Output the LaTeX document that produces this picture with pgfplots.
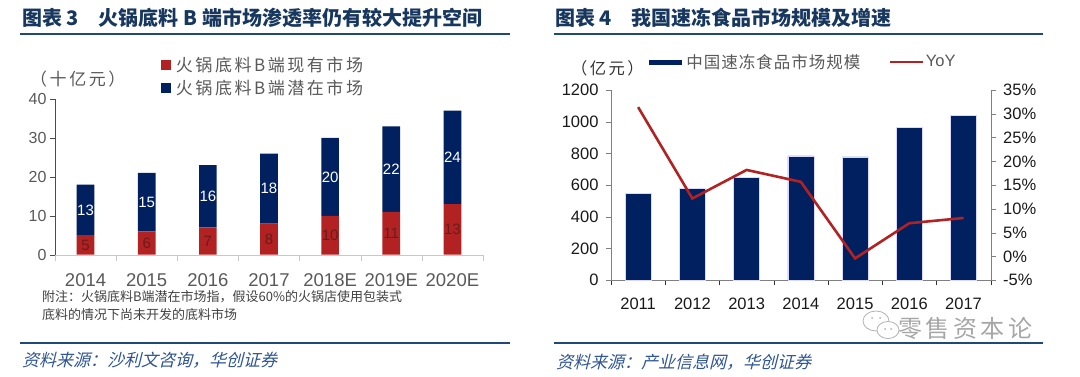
\documentclass[border=0pt]{standalone}
\usepackage{pgfplots}
\usepackage{pgfplotstable}
\pgfplotsset{compat=1.18}
\usepackage{fontspec}
\setmainfont{Liberation Sans}
\newfontfamily\cjk{Noto Sans CJK SC}
\newfontfamily\cjksp[LetterSpace=15]{Noto Sans CJK SC}
\newfontfamily\cjkspb[LetterSpace=6]{Noto Sans CJK SC}
\newfontfamily\cjkit[FakeSlant=0.25]{Noto Sans CJK SC}
\definecolor{navy}{RGB}{0,32,96}
\definecolor{barred}{RGB}{178,34,34}
\definecolor{lblred}{RGB}{105,28,28}
\definecolor{titleblue}{RGB}{23,55,94}
\definecolor{ruleblue}{RGB}{31,73,125}
\definecolor{srcblue}{RGB}{46,84,150}
\definecolor{txtgray}{RGB}{89,89,89}
\definecolor{axgray}{RGB}{128,128,128}
\definecolor{lightax}{RGB}{200,200,200}
\pgfplotsset{/pgf/number format/assume math mode=true, /pgf/number format/1000 sep={}}

\pgfplotstableread{
x red blue
0 5 13
1 6 15
2 7 16
3 8 18
4 10 20
5 11 22
6 13 24
}\hotpot

\pgfplotstableread{
x size yoy
0 548 31.4
1 582 12.2
2 649 18.2
3 784 15.7
4 778 -0.4
5 965 7.0
6 1040 8.1
}\frozen

\begin{document}
\begin{tikzpicture}[x=1pt,y=1pt]
\path[use as bounding box] (0,0) rectangle (1080,376);

% ---------- titles and rules ----------
\node[anchor=west, inner sep=0pt, text=titleblue, font=\cjk\bfseries\fontsize{20}{20}\selectfont] at (22,358) {图表 3\hspace{20pt}火锅底料 B 端市场渗透率仍有较大提升空间};
\node[anchor=west, inner sep=0pt, text=titleblue, font=\cjk\bfseries\fontsize{20}{20}\selectfont] at (555,358) {图表 4\hspace{20pt}我国速冻食品市场规模及增速};
\draw[ruleblue, line width=2pt] (20,342) -- (510,342);
\draw[ruleblue, line width=2pt] (554,342) -- (1043,342);
\draw[ruleblue, line width=2pt] (20,33) -- (510,33);
\draw[ruleblue, line width=2pt] (554,33) -- (1043,33);
\node[anchor=west, inner sep=0pt, text=srcblue, font=\cjkit\fontsize{17}{17}\selectfont] at (22,16) {资料来源：沙利文咨询，华创证券};
\node[anchor=west, inner sep=0pt, text=srcblue, font=\cjkit\fontsize{17}{17}\selectfont] at (556,14) {资料来源：产业信息网，华创证券};

% ---------- left panel notes ----------
\node[anchor=west, inner sep=0pt, text=txtgray, font=\cjksp\fontsize{17}{17}\selectfont] at (30,297) {（十亿元）};
\node[anchor=west, inner sep=0pt, text=black!75, font=\cjk\fontsize{13}{13}\selectfont] at (42,79) {附注：火锅底料B端潜在市场指，假设60\%的火锅店使用包装式};
\node[anchor=west, inner sep=0pt, text=black!75, font=\cjk\fontsize{13}{13}\selectfont] at (42,61) {底料的情况下尚未开发的底料市场};

% ---------- left panel chart ----------
\begin{axis}[
  at={(55pt,121.3pt)}, anchor=south west, scale only axis,
  width=428pt, height=155.7pt,
  ybar stacked, bar width=17.7pt,
  xmin=-0.5, xmax=6.5, ymin=0, ymax=40,
  xtick={0,...,6},
  xticklabels={2014,2015,2016,2017,2018E,2019E,2020E},
  minor xtick={-0.5,0.5,...,6.5},
  ytick={0,10,20,30,40},
  axis x line*=bottom, axis y line*=left,
  x axis line style={-, draw=lightax},
  y axis line style={-, draw=black!70},
  tick align=outside, major tick length=5pt, minor tick length=6pt,
  major x tick style={draw=none},
  minor x tick style={draw=lightax},
  ytick style={draw=black!70},
  x tick label style={font=\fontsize{18.5}{18.5}\selectfont, text=txtgray, yshift=-10pt},
  y tick label style={font=\fontsize{16}{16}\selectfont, text=txtgray},
  legend style={at={(0.24,1.295)}, anchor=north west, draw=none, fill=none,
    font=\cjksp\fontsize{17}{17}\selectfont, text=txtgray, row sep=3pt},
  legend cell align=left,
]
\addplot[fill=barred, draw=none, legend image code/.code={\fill[barred] (0pt,-5pt) rectangle (10pt,5pt);}] table[x=x, y=red]{\hotpot};
\addlegendentry{\hspace{3pt}火锅底料B端现有市场}
\addplot[fill=navy, draw=none, legend image code/.code={\fill[navy] (0pt,-5pt) rectangle (10pt,5pt);}] table[x=x, y=blue]{\hotpot};
\addlegendentry{\hspace{3pt}火锅底料B端潜在市场}
\end{axis}

\begin{axis}[
  at={(55pt,121.3pt)}, anchor=south west, scale only axis,
  width=428pt, height=155.7pt,
  xmin=-0.5, xmax=6.5, ymin=0, ymax=40, hide axis,
]
\addplot[draw=none, mark=none, nodes near coords, point meta=explicit,
  nodes near coords style={anchor=center, font=\fontsize{15}{15}\selectfont, text=lblred}]
  table[x=x, y expr=\thisrow{red}/2, meta=red]{\hotpot};
\addplot[draw=none, mark=none, nodes near coords, point meta=explicit,
  nodes near coords style={anchor=center, font=\fontsize{15}{15}\selectfont, text=white}]
  table[x=x, y expr=\thisrow{red}+\thisrow{blue}/2, meta=blue]{\hotpot};
\end{axis}

% ---------- right panel ----------
\node[anchor=west, inner sep=0pt, text=black!80, font=\cjksp\fontsize{16.3}{16.3}\selectfont] at (571,308) {（亿元）};

\begin{axis}[
  at={(611pt,95.7pt)}, anchor=south west, scale only axis,
  width=379.7pt, height=190.3pt,
  ybar, bar width=26pt,
  xmin=-0.5, xmax=6.5, ymin=0, ymax=1200,
  xtick={0,...,6},
  xticklabels={2011,2012,2013,2014,2015,2016,2017},
  minor xtick={-0.5,0.5,...,6.5},
  ytick={0,200,...,1200},
  axis x line*=bottom, axis y line*=left,
  axis line style={-, draw=axgray},
  tick align=outside, major tick length=5pt, minor tick length=5pt,
  major x tick style={draw=none},
  minor x tick style={draw=black!80},
  ytick style={draw=axgray},
  x tick label style={font=\fontsize{16.5}{16.5}\selectfont, text=black!90, yshift=-9pt},
  y tick label style={font=\fontsize{16.5}{16.5}\selectfont, text=black!90, xshift=-4pt},
]
\addplot[fill=navy, draw=blue!15!white, line width=0.4pt] table[x=x, y=size]{\frozen};
\end{axis}

\begin{axis}[
  at={(611pt,95.7pt)}, anchor=south west, scale only axis,
  width=379.7pt, height=190.3pt,
  xmin=-0.5, xmax=6.5, ymin=-5, ymax=35,
  ytick={-5,0,5,10,15,20,25,30,35},
  yticklabels={-5\%,0\%,5\%,10\%,15\%,20\%,25\%,30\%,35\%},
  axis y line*=right, axis x line=none,
  axis line style={-, draw=axgray},
  tick align=outside, major tick length=5pt,
  ytick style={draw=axgray},
  y tick label style={font=\fontsize{16.5}{16.5}\selectfont, text=black!90, xshift=4pt},
  legend style={at={(0.085,1.147)}, anchor=west, draw=none, fill=none,
    font=\cjkspb\fontsize{16.5}{16.5}\selectfont, text=txtgray,
    /tikz/every even column/.append style={column sep=26pt}},
  legend columns=2,
  legend cell align=left,
]
\addlegendimage{navy, line width=5pt, legend image code/.code={\draw[navy, line width=5pt] (0pt,0pt) -- (33pt,0pt);}}
\addlegendentry{中国速冻食品市场规模}
\addplot[barred, line width=2.6pt, mark=none, legend image code/.code={\draw[barred, line width=2.6pt] (0pt,0pt) -- (33pt,0pt);}] table[x=x, y=yoy]{\frozen};
\addlegendentry{\rmfamily YoY}
\end{axis}

% ---------- watermark ----------
\draw[gray!60, line width=0.8pt, fill=white] (876,55) ellipse (13pt and 10pt);
\draw[gray!60, line width=0.8pt, fill=white] (888,46) ellipse (11pt and 8.5pt);
\fill[gray!60] (872,58) circle (1pt) (880,58) circle (1pt) (885,47) circle (1pt) (891,47) circle (1pt);
\node[anchor=west, inner sep=0pt, text=gray!70, font=\cjksp\fontsize{24}{24}\selectfont] at (898,48) {零售资本论};
\end{tikzpicture}
\end{document}
